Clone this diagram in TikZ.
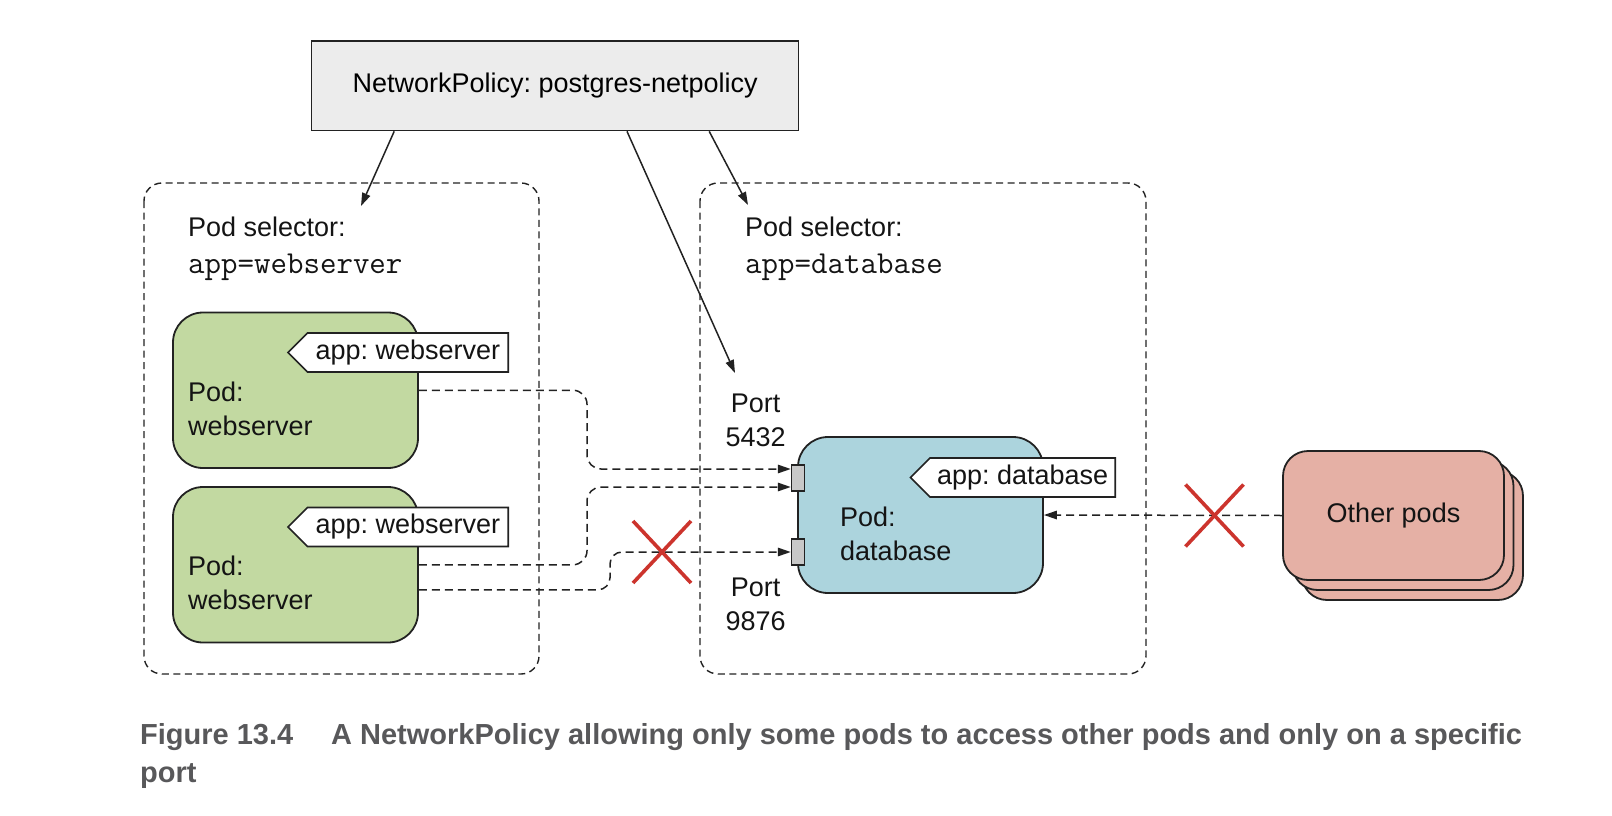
\documentclass[tikz,border=0pt]{standalone}
\usepackage{fontspec}
\setmainfont{Liberation Sans}
\usetikzlibrary{arrows.meta,shapes.symbols}
\definecolor{podgreen}{RGB}{194,217,161}
\definecolor{podblue}{RGB}{172,212,221}
\definecolor{podred}{RGB}{229,176,165}
\definecolor{xred}{RGB}{204,52,45}
\definecolor{edge}{RGB}{34,34,34}
\definecolor{capgray}{RGB}{88,88,90}
\definecolor{boxgray}{RGB}{236,236,236}
\definecolor{portgray}{RGB}{200,200,200}
\frenchspacing
\begin{document}
\begin{tikzpicture}[x=1pt,y=-1pt,
  lbl/.style={font=\fontsize{27}{34}\selectfont, inner sep=0pt, text=black!92},
  mono/.style={font=\ttfamily\fontsize{32}{34}\selectfont, inner sep=0pt, text=black!92},
  policybox/.style={draw=edge, line width=1.5pt, fill=boxgray, font=\fontsize{27}{34}\selectfont, inner sep=0pt},
  selbox/.style={draw=edge, line width=1.4pt, dash pattern=on 7pt off 4.5pt, rounded corners=18pt},
  podbox/.style={draw=edge, line width=1.8pt, rounded corners=30pt, inner sep=0pt},
  otherbox/.style={draw=edge, line width=1.8pt, rounded corners=25pt, fill=podred, inner sep=0pt, minimum width=221pt, minimum height=129pt},
  tagbox/.style={signal, signal to=west, signal pointer angle=90, draw=edge, line width=1.6pt, fill=white, font=\fontsize{27}{34}\selectfont, text=black!92, inner xsep=8pt, minimum height=39pt},
  portbox/.style={draw=edge, line width=1.5pt, fill=portgray, minimum width=13pt, minimum height=26pt, inner sep=0pt},
  arr/.style={draw=edge, line width=1.5pt, -{Triangle[length=13pt,width=8.5pt]}},
  flow/.style={draw=edge, line width=1.5pt, dash pattern=on 8pt off 5pt, -{Triangle[length=13pt,width=8.5pt]}},
  xmark/.style={draw=xred, line width=3.6pt},
  capstyle/.style={anchor=base west, inner sep=0pt, text=capgray, font=\bfseries\fontsize{29}{38}\selectfont}
]
\path[use as bounding box] (0,0) rectangle (1612,816);

% policy box
\node[policybox, minimum width=487pt, minimum height=89.6pt] (np) at (555.2,85.8) {NetworkPolicy: postgres-netpolicy};

% selector containers
\draw[selbox] (144,183) rectangle (539,674);
\draw[selbox] (700,183) rectangle (1146,674);

\node[lbl, anchor=base west] (selLt) at (188,236.7) {Pod selector:};
\node[mono, anchor=base west] (selLv) at (188,273) {app=webserver};
\node[lbl, anchor=base west] (selRt) at (745,236.7) {Pod selector:};
\node[mono, anchor=base west] (selRv) at (745,273) {app=database};

% webserver pods
\node[podbox, fill=podgreen, minimum width=245pt, minimum height=155.5pt] (pod1) at (295.5,390.25) {};
\node[podbox, fill=podgreen, minimum width=245pt, minimum height=155.5pt] (pod2) at (295.5,564.75) {};
\node[lbl, anchor=north west, align=left] (pod1t) at (188,382) {Pod:\\webserver};
\node[lbl, anchor=north west, align=left] (pod2t) at (188,555.5) {Pod:\\webserver};
\node[tagbox, anchor=east] (tag1) at (509,352.5) {app: webserver};
\node[tagbox, anchor=east] (tag2) at (509,527) {app: webserver};

% database pod
\node[podbox, fill=podblue, minimum width=245pt, minimum height=156pt] (db) at (920.5,515) {};
\node[lbl, anchor=north west, align=left] (dbt) at (840,507) {Pod:\\database};
\node[tagbox, anchor=east, inner xsep=7pt] (tag3) at (1116,477.5) {app: database};
\node[portbox] (port1) at (798,478) {};
\node[portbox] (port2) at (798,552) {};
\node[lbl, align=center] (p5432) at (755.6,420.5) {Port\\5432};
\node[lbl, align=center] (p9876) at (755.6,604.5) {Port\\9876};

% other pods
\node[otherbox] (others3) at (1412.5,535.5) {};
\node[otherbox] (others2) at (1403,525.5) {};
\node[otherbox, font=\fontsize{27}{34}\selectfont, text=black!92] (others) at (1393.5,515.5) {Other pods};

% policy arrows
\coordinate (selLend) at (361,206);
\coordinate (selRend) at (748,205);
\coordinate (portend) at (735,373);
\draw[arr] ([xshift=-161pt]np.south) -- (selLend);
\draw[arr] ([xshift=71.8pt]np.south) -- (portend);
\draw[arr] ([xshift=154pt]np.south) -- (selRend);

% traffic
\draw[flow, rounded corners=14pt] (pod1.east) -- (587,390.25) -- (587,469) -- ([yshift=9pt]port1.west);
\draw[flow, rounded corners=14pt] (pod2.east) -- (587,564.75) -- (587,487) -- ([yshift=-9pt]port1.west);
\draw[flow, rounded corners=12pt] ([yshift=-25pt]pod2.east) -- (610,589.75) -- (610,552) -- (port2.west);
\draw[flow] (others.west) -- (db.east);

% blocked marks
\coordinate (x1) at (662,552);
\coordinate (x2) at (1214.5,515.5);
\draw[xmark] ([shift={(-29pt,31pt)}]x1) -- ([shift={(29pt,-31pt)}]x1);
\draw[xmark] ([shift={(-29pt,-31pt)}]x1) -- ([shift={(29pt,31pt)}]x1);
\draw[xmark] ([shift={(-29pt,31pt)}]x2) -- ([shift={(29pt,-31pt)}]x2);
\draw[xmark] ([shift={(-29pt,-31pt)}]x2) -- ([shift={(29pt,31pt)}]x2);

% caption
\node[capstyle] (capnum) at (140,744) {Figure 13.4};
\node[capstyle] (captxt) at (331,744) {A NetworkPolicy allowing only some pods to access other pods and only on a specific};
\node[capstyle] (capend) at (140,782) {port};
\end{tikzpicture}
\end{document}
